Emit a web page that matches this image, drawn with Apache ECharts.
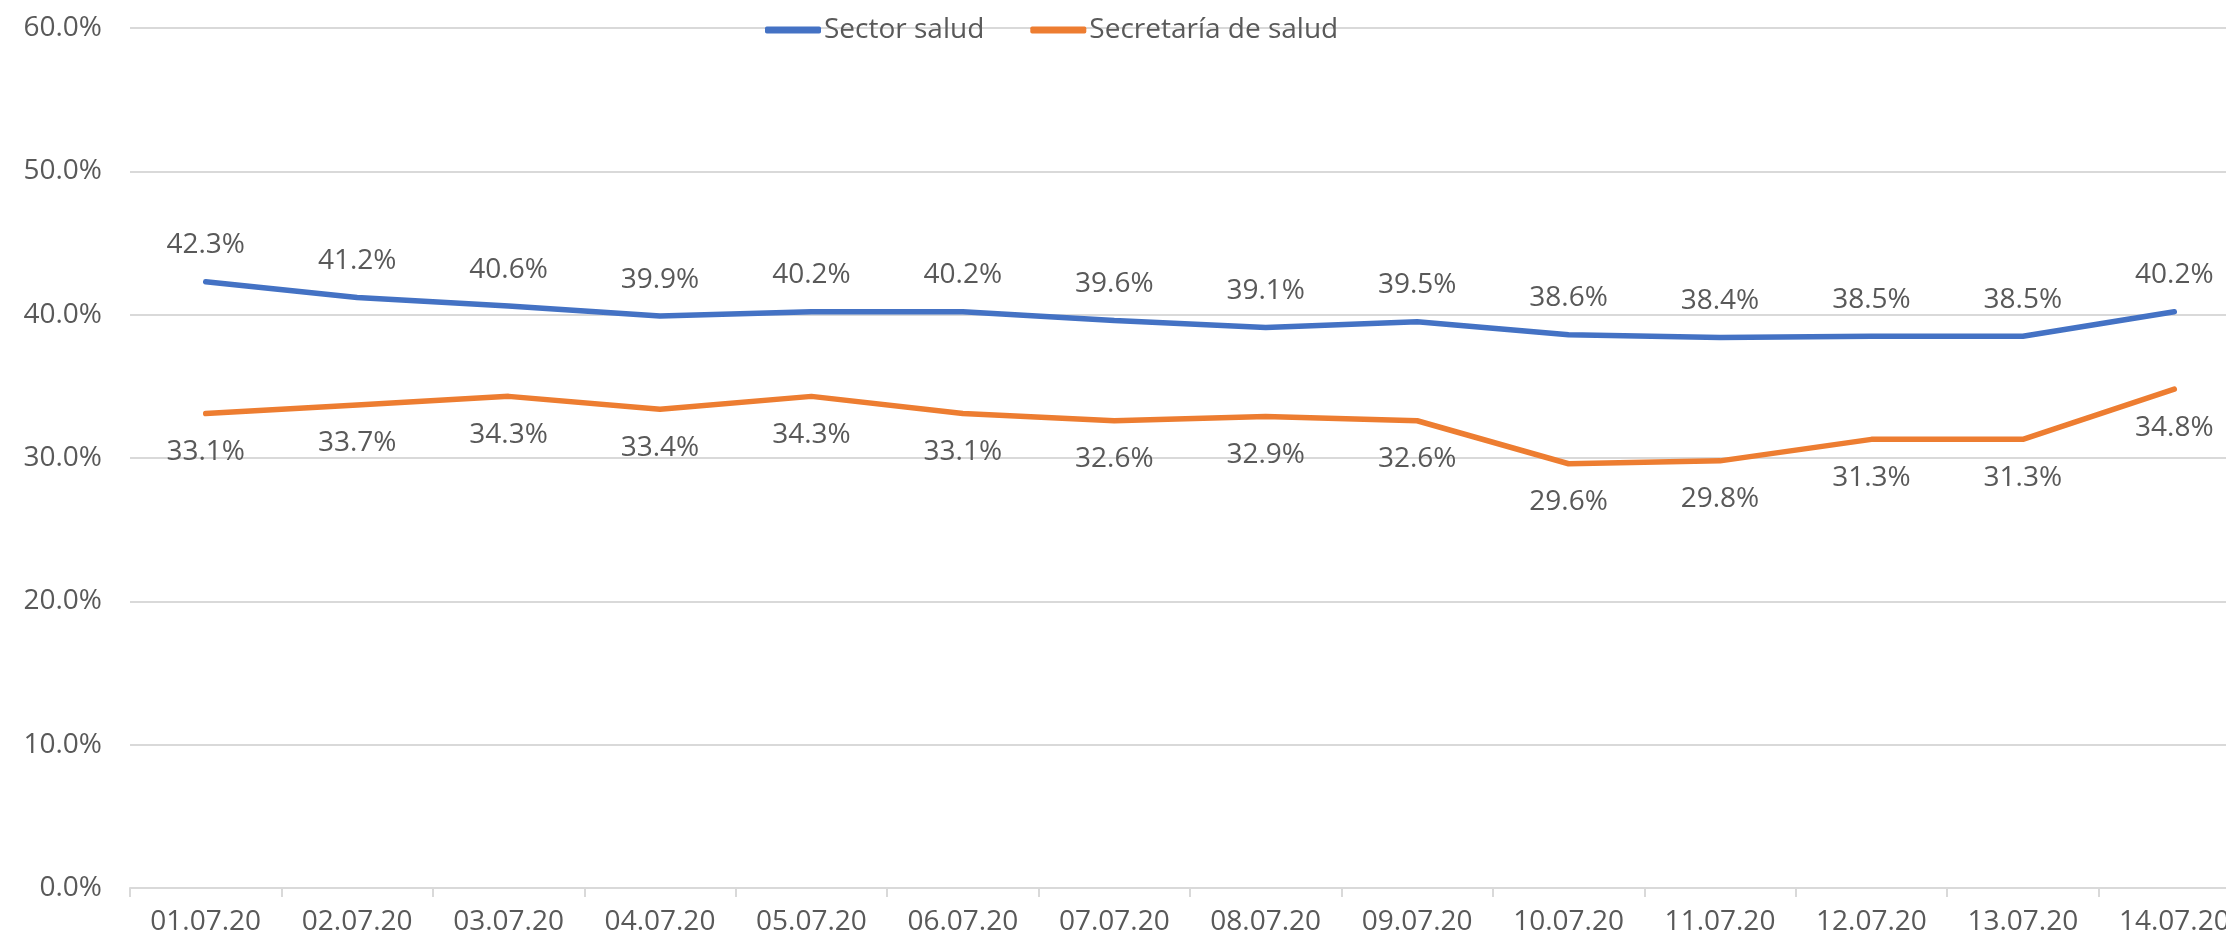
<!DOCTYPE html>
<html lang="es">
<head>
	<meta charset="UTF-8">
	<title>Sector salud</title>
	<style>
		*{
			margin: 0;
			padding: 0;
		}
		body{
			overflow: hidden;
		}
		/* el eje sigue un poco más allá del borde derecho */
		#chart{
			width: 2250px;
			height: 939px;
			background: #fff;
		}
	</style>
</head>
<body>
	<div id="chart"></div>
	<script src="https://cdn.jsdelivr.net/npm/echarts@6/dist/echarts.min.js"></script>
	<script>
	// datos
	var fechas = ['01.07.20','02.07.20','03.07.20','04.07.20','05.07.20','06.07.20','07.07.20',
		'08.07.20','09.07.20','10.07.20','11.07.20','12.07.20','13.07.20','14.07.20'];
	var sectorSalud = [42.3, 41.2, 40.6, 39.9, 40.2, 40.2, 39.6, 39.1, 39.5, 38.6, 38.4, 38.5, 38.5, 40.2];
	var secretariaSalud = [33.1, 33.7, 34.3, 33.4, 34.3, 33.1, 32.6, 32.9, 32.6, 29.6, 29.8, 31.3, 31.3, 34.8];
	var nombres = ['Sector salud', 'Secretaría de salud'];

	var fuente = 'Open Sans';
	var gris = '#595959';

	var myChart = echarts.init(document.getElementById('chart'));

	function pct(v){
		return Number(v).toFixed(1) + '%';
	}

	var option = {
		animation: false,
		textStyle: {
			fontFamily: fuente,
			color: gris
		},
		legend: {
			data: nombres,
			left: 760,
			top: 11,
			icon: 'roundRect',
			itemWidth: 56,
			itemHeight: 7,
			itemGap: 46,
			textStyle: {
				fontFamily: fuente,
				fontSize: 28,
				color: gris,
				padding: [0, 0, 0, -2]
			}
		},
		grid: {
			left: 130,
			top: 28,
			bottom: 51,
			right: 0,
			containLabel: false
		},
		xAxis: {
			type: 'category',
			boundaryGap: true,
			data: fechas,
			axisLine: {
				lineStyle: { color: '#d9d9d9', width: 2 }
			},
			axisTick: {
				show: true,
				length: 9,
				lineStyle: { color: '#d9d9d9', width: 2 }
			},
			axisLabel: {
				margin: 20,
				fontSize: 28,
				color: gris,
				fontFamily: fuente
			}
		},
		yAxis: {
			type: 'value',
			min: 0,
			max: 60,
			interval: 10,
			axisLine: { show: false },
			axisTick: { show: false },
			axisLabel: {
				margin: 28,
				fontSize: 28,
				color: gris,
				fontFamily: fuente,
				formatter: pct
			},
			splitLine: {
				lineStyle: { color: '#d9d9d9', width: 2 }
			}
		},
		series: [{
			name: nombres[0],
			type: 'line',
			data: sectorSalud,
			symbol: 'circle',
			symbolSize: 1,
			showSymbol: true,
			color: '#4472C4',
			lineStyle: { width: 5.5, color: '#4472C4', cap: 'round' },
			labelLayout: { hideOverlap: false },
			label: {
				show: true,
				position: 'top',
				distance: 22,
				fontSize: 28,
				color: gris,
				fontFamily: fuente,
				formatter: function(p){ return pct(p.value); }
			}
		},{
			name: nombres[1],
			type: 'line',
			data: secretariaSalud,
			symbol: 'circle',
			symbolSize: 1,
			showSymbol: true,
			color: '#ED7D31',
			lineStyle: { width: 5.5, color: '#ED7D31', cap: 'round' },
			labelLayout: { hideOverlap: false },
			label: {
				show: true,
				position: 'bottom',
				distance: 24,
				fontSize: 28,
				color: gris,
				fontFamily: fuente,
				formatter: function(p){ return pct(p.value); }
			}
		}]
	};
	myChart.setOption(option);
	</script>
</body>
</html>
